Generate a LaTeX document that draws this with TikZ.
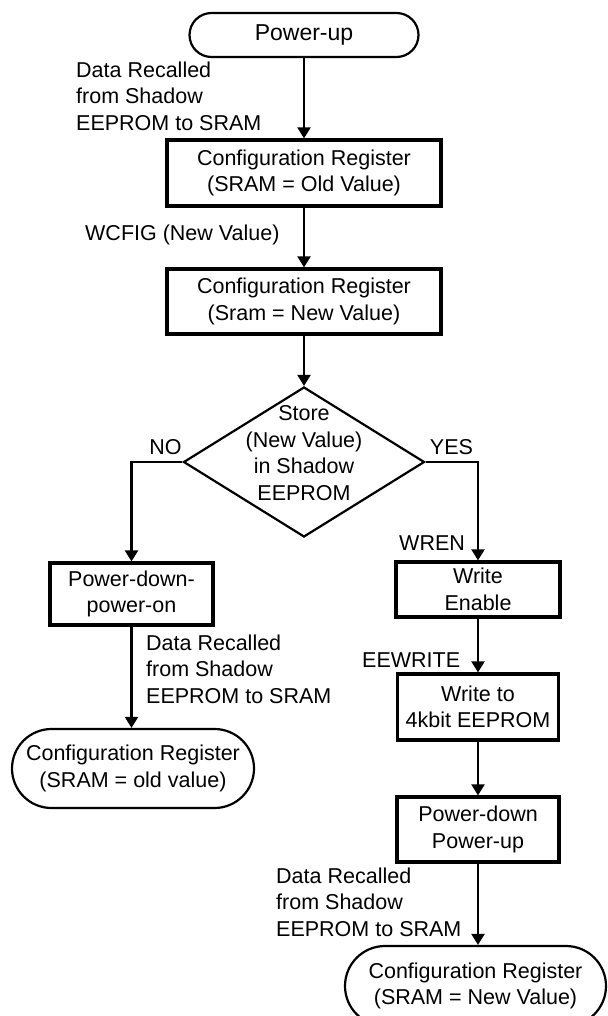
\documentclass[tikz,border=0pt]{standalone}
\usepackage{fontspec}
\setmainfont{Liberation Sans}
\usetikzlibrary{arrows.meta,shapes.geometric,shapes.misc}
\tikzset{
  every node/.style={font=\fontsize{21.5}{26.5}\selectfont, inner sep=0pt},
  procbox/.style={draw, line width=3.2pt, rectangle, align=center},
  term/.style={draw, line width=2.2pt, rounded rectangle, align=center},
  decide/.style={draw, line width=2.2pt, diamond},
  lbl/.style={align=left, anchor=west},
  conn/.style={line width=2.2pt, -{Triangle[width=13pt,length=11pt]}},
}
\begin{document}
\begin{tikzpicture}[x=1pt,y=-1pt]
\clip (0,0) rectangle (607,1016);
% nodes
\node[term, minimum width=229pt, minimum height=44pt, font=\fontsize{23}{27}\selectfont] (pu) at (304,35) {Power-up};
\node[procbox, minimum width=274pt, minimum height=66pt] (b1) at (304,173) {Configuration Register\\(SRAM = Old Value)};
\node[procbox, minimum width=274pt, minimum height=65pt] (b2) at (304,301.5) {Configuration Register\\(Sram = New Value)};
\node[decide, minimum width=241pt, minimum height=150pt] (dia) at (304,462) {};
\node[align=center] (diat) at (304,453) {Store\\(New Value)\\in Shadow\\EEPROM};
\node[procbox, minimum width=163pt, minimum height=62pt] (pdpo) at (131.5,594) {Power-down-\\power-on};
\node[term, minimum width=242pt, minimum height=79pt] (told) at (133,768.5) {Configuration Register\\(SRAM = old value)};
\node[procbox, minimum width=164pt, minimum height=55pt] (we) at (478,589.5) {Write\\Enable};
\node[procbox, minimum width=161pt, minimum height=66pt] (wt) at (478,707) {Write to\\4kbit EEPROM};
\node[procbox, minimum width=162pt, minimum height=65pt] (pdpu) at (478,829.5) {Power-down\\Power-up};
\node[term, minimum width=261pt, minimum height=80pt] (tnew) at (475.5,986) {Configuration Register\\(SRAM = New Value)};
% labels
\node[lbl] (l1) at (76,96) {Data Recalled\\from Shadow\\EEPROM to SRAM};
\node[lbl] (l2) at (85,235) {WCFIG (New Value)};
\node (lno) at (165.5,447) {NO};
\node (lyes) at (451.5,447) {YES};
\node[lbl] (l3) at (399,543) {WREN};
\node[lbl] (l4) at (362,660) {EEWRITE};
\node[lbl] (l5) at (146,669) {Data Recalled\\from Shadow\\EEPROM to SRAM};
\node[lbl] (l6) at (276,902) {Data Recalled\\from Shadow\\EEPROM to SRAM};
% connectors
\draw[conn] (pu.south) -- (b1.north);
\draw[conn] (b1.south) -- (b2.north);
\draw[conn] (b2.south) -- (dia.north);
\draw[conn] (dia.west) -| (pdpo.north);
\draw[conn] (dia.east) -| (we.north);
\draw[conn] (we.south) -- (wt.north);
\draw[conn] (wt.south) -- (pdpu.north);
\draw[conn] (pdpu.south) -- (pdpu.south |- tnew.north);
\draw[conn] (pdpo.south) -- (pdpo.south |- told.north);
\end{tikzpicture}
\end{document}
